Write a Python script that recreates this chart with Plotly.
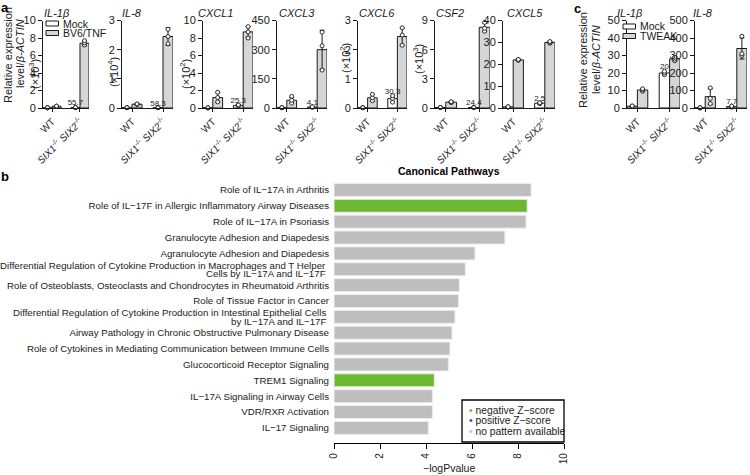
import plotly.graph_objects as go

W, H = 750, 475
FONT = "Arial, 'Liberation Sans', Helvetica, sans-serif"
INK = "#1a1a1a"

def px(x):
    return x / W

def py(y):
    return 1 - y / H

# ---------------- data: panel a ----------------
groups = ["WT", "<i>SIX1</i><sup>-/-</sup> <i>SIX2</i><sup>-/-</sup>"]
genes_a = ["IL-1β", "IL-8", "CXCL1", "CXCL3", "CXCL6", "CSF2", "CXCL5"]
scale_a = ["(×10<sup>3</sup>)", "(×10<sup>4</sup>)", "(×10<sup>2</sup>)", "", "(×10<sup>2</sup>)", "(×10<sup>3</sup>)", ""]
ymax_a = [10, 3, 10, 450, 3, 9, 40]
ydtick_a = [2, 1, 2, 150, 1, 3, 10]
mock_mean_a = [[0.02, 0.05], [0.01, 0.01], [0.02, 0.30], [2, 5], [0.01, 0.32], [0.05, 0.05], [0.5, 2.2]]
mock_sd_a = [[0.01, 0.01], [0.005, 0.005], [0.01, 0.05], [1, 1], [0.005, 0.1], [0.02, 0.02], [0.1, 0.3]]
treat_mean_a = [[0.2, 7.4], [0.13, 2.45], [1.2, 8.7], [40, 300], [0.35, 2.45], [0.6, 8.3], [22, 30]]
treat_sd_a = [[0.03, 0.3], [0.02, 0.3], [0.55, 0.6], [15, 100], [0.12, 0.3], [0.08, 0.45], [0.3, 0.5]]
mock_pts_a = [
    [[0.02, 0.02, 0.03], [0.04, 0.05, 0.06]],
    [[0.01, 0.01, 0.01], [0.01, 0.01, 0.01]],
    [[0.02, 0.02, 0.02], [0.25, 0.3, 0.35]],
    [[1, 2, 2], [4, 5, 6]],
    [[0.01, 0.01, 0.01], [0.2, 0.33, 0.42]],
    [[0.05, 0.05, 0.05], [0.05, 0.05, 0.05]],
    [[0.4, 0.5, 0.6], [2.0, 2.2, 2.4]],
]
treat_pts_a = [
    [[0.18, 0.2, 0.22], [7.2, 7.45, 7.7]],
    [[0.12, 0.13, 0.14], [2.2, 2.45, 2.7]],
    [[0.7, 1.2, 1.8], [8.0, 8.7, 9.3]],
    [[25, 40, 60], [195, 320, 390]],
    [[0.25, 0.35, 0.47], [2.15, 2.5, 2.75]],
    [[0.55, 0.6, 0.65], [7.9, 8.2, 8.8]],
    [[21.8, 22, 22.2], [29.6, 30, 30.4]],
]
fold_a = ["55.7", "58.3", "25.3", "4.1", "30.3", "24.4", "2.5"]

# ---------------- data: panel c ----------------
genes_c = ["IL-1β", "IL-8"]
ymax_c = [50, 500]
ydtick_c = [10, 100]
mock_mean_c = [[1, 20], [1, 8]]
mock_sd_c = [[0.2, 1.0], [0.5, 3]]
treat_mean_c = [[10.3, 28], [65, 340]]
treat_sd_c = [[0.7, 1.2], [45, 60]]
mock_pts_c = [[[0.8, 1, 1.2], [19, 20, 21]], [[0.5, 1, 1.5], [5, 8, 11]]]
treat_pts_c = [[[9.6, 10.3, 11], [27, 28, 29]], [[25, 55, 115], [300, 310, 410]]]
fold_c = ["20", "7.7"]

# ---------------- data: panel b ----------------
pathways = [
    "Role of IL−17A in Arthritis",
    "Role of IL−17F in Allergic Inflammatory Airway Diseases",
    "Role of IL−17A in Psoriasis",
    "Granulocyte Adhesion and Diapedesis",
    "Agranulocyte Adhesion and Diapedesis",
    "Differential Regulation of Cytokine Production in Macrophages and T Helper<br>Cells by IL−17A and IL−17F",
    "Role of Osteoblasts, Osteoclasts and Chondrocytes in Rheumatoid Arthritis",
    "Role of Tissue Factor in Cancer",
    "Differential Regulation of Cytokine Production in Intestinal Epithelial Cells<br>by IL−17A and IL−17F",
    "Airway Pathology in Chronic Obstructive Pulmonary Disease",
    "Role of Cytokines in Mediating Communication between Immune Cells",
    "Glucocorticoid Receptor Signaling",
    "TREM1 Signaling",
    "IL−17A Signaling in Airway Cells",
    "VDR/RXR Activation",
    "IL−17 Signaling",
]
neglogp = [8.57, 8.4, 8.35, 7.43, 6.13, 5.71, 5.45, 5.41, 5.26, 5.13, 5.04, 4.97, 4.36, 4.28, 4.28, 4.1]
zpattern = ["none", "neg", "none", "none", "none", "none", "none", "none",
            "none", "none", "none", "none", "neg", "none", "none", "none"]
zlegend = [("neg", "negative Z−score"), ("pos", "positive Z−score"), ("none", "no pattern available")]

# ---------------- styling ----------------
GREEN = "#6cb931"
BLUE = "#2b4ea0"
GREY_B = "#bfbebf"
TREAT_FILL = "#d6d6d6"
BARGAP = 0.355

fig = go.Figure()
annotations = []
shapes = []
layout = {}


def note(x, y, text, size=11, xa="center", ya="middle", angle=0, color=INK, xref="paper", yref="paper", **kw):
    d = dict(x=px(x) if xref == "paper" else x, y=py(y) if yref == "paper" else y,
             xref=xref, yref=yref, text=text, showarrow=False, xanchor=xa, yanchor=ya,
             textangle=angle, font=dict(size=size, family=FONT, color=color))
    d.update(kw)
    annotations.append(d)


def axis_keys(k):
    return ("xaxis" if k == 1 else f"xaxis{k}", "yaxis" if k == 1 else f"yaxis{k}",
            "x" if k == 1 else f"x{k}", "y" if k == 1 else f"y{k}")


def gene_panel(k, gene, x0, x1, ymax, dtick, mm, ms, tm, ts, mp, tp, fold, title_x):
    xk, yk, xr, yr = axis_keys(k)
    eb = dict(type="data", color=INK, thickness=1, width=2.5)
    fig.add_trace(go.Bar(x=groups, y=mm, error_y=dict(eb, array=ms), offsetgroup="mock",
                         marker=dict(color="white", line=dict(color=INK, width=1)),
                         xaxis=xr, yaxis=yr, showlegend=False))
    fig.add_trace(go.Bar(x=groups, y=tm, error_y=dict(eb, array=ts), offsetgroup="treat",
                         marker=dict(color=TREAT_FILL, line=dict(color=INK, width=1)),
                         xaxis=xr, yaxis=yr, showlegend=False))
    for off, pts in (("mock", mp), ("treat", tp)):
        xs, ys = [], []
        for gi, g in enumerate(groups):
            xs += [g] * len(pts[gi])
            ys += pts[gi]
        fig.add_trace(go.Scatter(x=xs, y=ys, mode="markers", offsetgroup=off, cliponaxis=False,
                                 marker=dict(symbol="circle", size=4, color="white",
                                             line=dict(color=INK, width=0.9)),
                                 xaxis=xr, yaxis=yr, showlegend=False))
    fig.add_trace(go.Scatter(x=[groups[1]], y=[mm[1] + ms[1]], mode="text", offsetgroup="mock",
                             text=[fold], textposition="top center", cliponaxis=False,
                             textfont=dict(size=8, family=FONT, color=INK),
                             xaxis=xr, yaxis=yr, showlegend=False))
    layout[xk] = dict(domain=[px(x0), px(x1)], anchor=yr, type="category", automargin=False,
                      range=[-0.5 + BARGAP / 2, 1.5 - BARGAP / 2],
                      showline=True, linecolor=INK, linewidth=1, ticks="outside", ticklen=3,
                      tickcolor=INK, tickangle=-45, tickfont=dict(size=10, family=FONT, color=INK),
                      showgrid=False, zeroline=False, fixedrange=True)
    layout[yk] = dict(domain=[py(108), py(20.5)], anchor=xr, range=[0, ymax], dtick=dtick,
                      automargin=False,
                      showline=True, linecolor=INK, linewidth=1, ticks="outside", ticklen=4,
                      tickcolor=INK, tickfont=dict(size=11, family=FONT, color=INK),
                      showgrid=False, zeroline=False)
    note(title_x, 13, f"<i>{gene}</i>", size=11)


a_x0 = [43, 122, 203, 277, 358, 435, 503]
a_x1 = [89, 173, 253, 327, 407, 490, 555]
a_title = [57, 132, 216, 297, 377, 450, 525]
for i in range(7):
    gene_panel(i + 1, genes_a[i], a_x0[i], a_x1[i], ymax_a[i], ydtick_a[i],
               mock_mean_a[i], mock_sd_a[i], treat_mean_a[i], treat_sd_a[i],
               mock_pts_a[i], treat_pts_a[i], fold_a[i], a_title[i])

c_x0 = [627, 695]
c_x1 = [680, 747]
c_title = [630, 703]
for i in range(2):
    gene_panel(8 + i, genes_c[i], c_x0[i], c_x1[i], ymax_c[i], ydtick_c[i],
               mock_mean_c[i], mock_sd_c[i], treat_mean_c[i], treat_sd_c[i],
               mock_pts_c[i], treat_pts_c[i], fold_c[i], c_title[i])

# scale labels for panel a
scale_x = [34, 113, 185, 0, 345, 418, 0]
scale_y = [74, 72, 74, 0, 58, 59, 0]
for i, s in enumerate(scale_a):
    if s:
        note(scale_x[i], scale_y[i], s, angle=-90)

# y titles
note(8, 55, "Relative expression", angle=-90)
note(20, 54, "level/<i>β-ACTIN</i>", angle=-90)
note(583, 60, "Relative expression", angle=-90)
note(596, 60, "level/<i>β-ACTIN</i>", angle=-90)

# in-plot legends (panel a and c)
def mini_legend(x, y, labels):
    fills = ["white", TREAT_FILL]
    for j, lab in enumerate(labels):
        yy = y + j * 9.5
        shapes.append(dict(type="rect", xref="paper", yref="paper",
                           x0=px(x), x1=px(x + 12.5), y0=py(yy + 2.5), y1=py(yy - 2.5),
                           fillcolor=fills[j], line=dict(color=INK, width=1)))
        note(x + 14.5, yy, lab, size=10.5, xa="left")

mini_legend(46, 23.5, ["Mock", "BV6/TNF"])
mini_legend(623, 26.5, ["Mock", "TWEAK"])

# panel labels
for lab, x, y in (("a", 5, 8), ("b", 5, 176), ("c", 577, 9)):
    note(x, y, f"<b>{lab}</b>", size=13, color="black")

# ---------------- panel b ----------------
cmap = {"neg": GREEN, "pos": BLUE, "none": GREY_B}
fig.add_trace(go.Bar(x=neglogp, y=pathways, orientation="h", width=0.82,
                     marker=dict(color=[cmap[z] for z in zpattern], line=dict(color="#ececec", width=1)),
                     xaxis="x10", yaxis="y10", showlegend=False))
ticktext = ["" if "<br>" in p else p for p in pathways]
layout["xaxis10"] = dict(domain=[px(334), px(564)], anchor="y10", range=[0, 10], dtick=2,
                         automargin=False,
                         showline=True, linecolor="black", linewidth=1.3, ticks="outside", ticklen=5,
                         tickcolor="black", tickangle=-90, tickfont=dict(size=10, family=FONT, color=INK),
                         showgrid=False, zeroline=False)
layout["yaxis10"] = dict(domain=[py(443), py(182)], anchor="x10", type="category", automargin=False,
                         range=[15.95, -0.5], showline=False, ticks="", ticklabelstandoff=4,
                         tickmode="array", tickvals=pathways, ticktext=ticktext,
                         tickfont=dict(size=9.7, family=FONT, color=INK), showgrid=False)
# two-line pathway labels, one annotation per line, placed on the category scale
for p in pathways:
    if "<br>" in p:
        l1, l2 = p.split("<br>")
        note(328, p, l1, size=9.7, xa="right", yref="y10", yshift=4.2)
        annotations[-1]["y"] = p
        note(328, p, l2, size=9.7, xa="right", yref="y10", yshift=-4.2)
        annotations[-1]["y"] = p

note(449, 171, "<b>Canonical Pathways</b>", size=10.5, color="black")
note(449, 468, "−logPvalue", size=10.5)
shapes.append(dict(type="rect", xref="paper", yref="paper", x0=px(462), x1=px(564),
                   y0=py(442), y1=py(400), fillcolor="white", line=dict(color="black", width=1.3)))
for j, (z, lab) in enumerate(zlegend):
    note(467, 410.5 + j * 10.3, f"<span style='color:{cmap[z]}'>•</span> {lab}", size=10.3, xa="left")

fig.update_layout(**layout)
fig.update_layout(width=W, height=H, margin=dict(l=0, r=0, t=0, b=0, autoexpand=False),
                  paper_bgcolor="white", plot_bgcolor="white",
                  barmode="group", bargap=BARGAP, bargroupgap=0,
                  scattermode="group", scattergap=BARGAP,
                  annotations=annotations, shapes=shapes,
                  font=dict(family=FONT, color=INK))
fig.write_html("out.html", config={"displayModeBar": False},
               post_script="document.body.style.margin='0px';")
